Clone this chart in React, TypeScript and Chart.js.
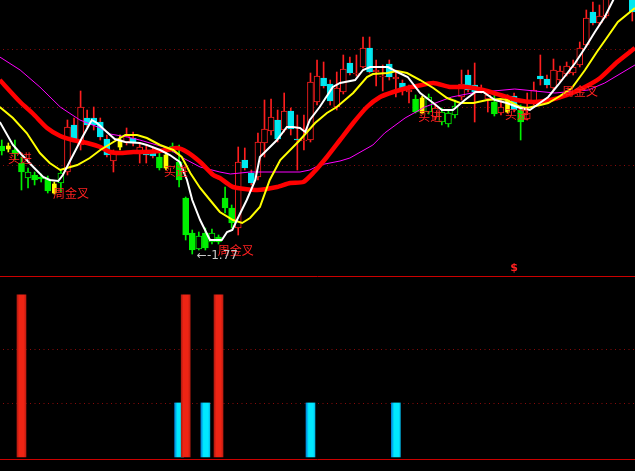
import React, { useEffect, useRef } from "react";
import { Chart, registerables } from "chart.js";

Chart.register(...registerables);

// ---------- DATA ----------
// candle kinds: r = red hollow (up), c = cyan (down), g = green filled, G = green hollow, y = yellow
const kinds = [
  "g","y","g","g","G","g","g","g","y","G",
  "r","c","r","c","c","c","c","r","y","r",
  "c","r","c","c","g","y","G","g","g","g",
  "G","g","G","g","g","g","r","c","c","r",
  "r","r","c","r","c","c","r","r","r","c",
  "c","r","r","c","r","r","c","r","r","c",
  "r","c","r","g","y","G","r","G","G","G",
  "r","c","c","r","r","g","r","y","c","g",
  "r","r","c","c","r","r","r","r","r","r",
  "c","r","r","r","r","c","c",
];
const opens = [
  13.0,13.0,12.6,11.3,9.8,10.1,9.9,9.7,9.2,9.3,
  10.4,15.1,13.1,15.8,15.8,15.4,13.7,11.5,13.6,13.4,
  13.8,12.4,12.6,12.6,11.9,12.1,12.6,11.4,7.8,4.3,
  2.7,4.3,3.4,3.9,7.8,6.8,4.8,11.6,10.3,9.9,
  13.3,14.5,15.6,14.6,16.5,13.6,13.5,13.6,17.4,19.8,
  19.2,16.9,18.4,21.3,20.2,20.9,22.8,20.4,19.9,21.2,
  19.7,19.3,18.4,17.7,17.8,16.4,15.9,15.4,15.2,16.1,
  17.9,20.1,19.1,18.5,17.7,17.4,16.3,17.8,18.0,16.6,
  15.7,17.3,20.0,19.7,18.8,19.6,20.2,20.3,21.1,23.1,
  26.4,25.3,26.0,28.1,30.1,32.0,28.1,
];
const closes = [
  12.5,12.7,12.2,10.4,10.4,9.6,9.7,8.5,8.3,10.3,
  14.9,13.6,16.9,15.1,15.1,13.9,12.1,12.3,12.9,14.0,
  13.3,12.9,12.1,12.0,10.8,10.8,13.0,9.6,4.1,2.6,
  4.0,2.8,4.3,3.4,6.8,5.3,11.4,10.8,9.3,13.4,
  14.7,15.9,13.7,16.5,14.7,13.5,13.6,19.4,20.0,19.0,
  17.5,18.8,20.7,20.3,20.3,22.8,20.4,20.6,20.0,19.9,
  19.9,18.7,18.6,16.4,16.3,17.9,16.8,16.4,16.3,17.0,
  19.2,18.6,18.4,18.7,18.1,16.2,16.9,16.4,16.6,15.4,
  16.3,18.6,19.7,19.1,20.6,20.5,21.0,20.9,22.8,25.8,
  25.3,26.0,28.1,30.6,32.6,29.6,26.4,
];
const highs = [
  13.6,13.3,13.6,11.9,10.8,10.4,10.2,10.0,9.4,10.6,
  15.6,15.8,18.5,16.6,16.9,15.8,14.1,12.6,14.1,14.8,
  14.4,13.3,13.1,12.9,12.6,12.6,13.3,13.1,7.9,4.6,
  4.4,4.8,4.7,4.1,8.9,7.1,12.9,12.8,10.6,14.3,
  17.6,17.7,16.6,18.3,16.8,16.1,16.1,20.3,21.6,21.4,
  19.6,20.4,22.1,21.9,22.1,23.9,23.9,21.6,21.1,21.6,
  20.6,19.6,19.1,18.1,18.0,18.2,17.2,16.8,16.6,17.6,
  20.6,20.6,21.3,19.1,18.4,18.1,17.6,18.1,18.3,17.1,
  18.3,19.4,22.1,20.1,21.7,21.0,21.4,21.6,23.4,26.6,
  27.4,27.1,29.1,31.6,33.5,33.0,28.6,
];
const lows = [
  12.1,12.4,11.6,8.6,8.8,9.1,9.4,8.3,8.2,8.4,
  10.1,13.5,12.6,14.9,14.6,13.6,11.9,10.4,12.6,13.1,
  13.0,11.3,11.3,11.8,10.6,10.6,12.4,8.9,3.6,2.2,
  2.6,2.6,3.2,3.2,6.3,4.8,4.1,10.6,9.1,9.6,
  11.9,14.1,13.4,14.4,14.1,10.6,12.6,13.4,17.1,18.8,
  17.1,16.6,18.2,20.1,20.0,20.8,20.3,19.0,18.5,19.6,
  17.9,18.1,17.3,16.3,16.2,16.2,15.6,15.1,14.9,15.8,
  17.6,18.4,15.4,18.3,16.4,16.0,16.1,16.3,16.4,13.6,
  15.6,17.1,19.1,18.8,18.6,19.4,20.0,20.1,20.9,22.9,
  25.1,25.1,25.8,27.9,29.8,29.0,25.5,
];

// moving-average lines: [candle position, value]
const whitePts = [[-0.3,15.4],[1.7,13.1],[2.8,12.3],[4.8,10.9],[6.3,9.9],[7.3,9.6],[8.6,9.5],[9.3,10.1],[10.7,11.9],[12.2,13.8],[13.7,15.6],[14.5,15.3],[16.0,14.4],[17.2,13.7],[18.8,13.4],[21.0,13.3],[22.1,13.1],[24.1,12.6],[25.6,12.1],[27.1,11.4],[28.2,9.6],[29.0,7.6],[30.2,5.6],[31.7,3.6],[33.5,3.6],[34.3,4.4],[35.1,4.6],[35.8,5.6],[37.3,7.6],[38.6,9.6],[39.3,11.9],[41.9,13.6],[43.4,14.9],[44.3,14.9],[45.4,14.8],[46.2,14.4],[46.9,15.6],[48.4,16.9],[50.4,18.9],[51.5,19.3],[53.8,19.6],[55.0,20.6],[56.1,20.9],[58.8,20.9],[60.2,20.4],[61.8,19.9],[63.7,18.3],[65.7,17.3],[67.0,16.6],[68.7,16.6],[70.5,17.6],[72.1,18.4],[73.3,18.4],[75.1,17.6],[76.9,17.3],[78.9,16.8],[80.4,16.6],[83.2,17.9],[84.7,19.1],[87.3,21.3],[88.8,22.8],[90.3,24.4],[91.8,25.9],[93.1,27.6],[94.9,30.6]];
const yellowPts = [[-0.3,16.9],[1.7,15.8],[3.8,14.3],[5.8,12.3],[7.3,11.3],[8.9,10.6],[9.9,10.8],[11.5,11.1],[13.4,11.8],[15.0,12.6],[17.0,13.4],[18.8,14.1],[20.6,14.1],[22.1,13.8],[24.1,13.1],[26.1,12.6],[27.4,11.9],[28.7,10.3],[30.2,8.8],[31.7,7.6],[33.2,6.4],[35.2,5.6],[36.6,5.3],[37.8,5.8],[39.3,6.9],[40.8,9.6],[42.4,11.6],[45.4,13.6],[47.7,15.3],[49.5,16.3],[51.0,16.9],[53.5,18.3],[55.6,19.9],[56.5,20.2],[58.7,20.3],[60.2,20.5],[61.7,20.3],[63.7,19.6],[65.7,18.8],[67.8,17.8],[69.8,17.3],[71.8,17.3],[73.9,17.6],[75.9,17.7],[76.9,17.6],[78.9,16.9],[80.0,16.8],[82.0,17.1],[83.2,17.3],[85.0,18.0],[86.8,18.8],[88.8,20.6],[90.6,22.4],[92.1,23.8],[93.8,25.4],[96.4,26.8]];
const redPts = [[-0.3,19.6],[2.8,17.4],[4.8,16.2],[6.9,14.8],[8.9,14.0],[10.8,13.6],[13.0,13.3],[15.0,12.9],[16.5,12.4],[18.0,12.3],[20.0,12.4],[22.1,12.4],[25.2,12.6],[26.7,12.8],[28.2,12.4],[30.2,11.4],[32.2,10.1],[33.2,9.8],[35.2,8.9],[38.9,8.6],[41.9,8.9],[43.9,9.3],[45.9,9.4],[47.4,10.3],[49.5,11.9],[51.5,13.6],[53.5,15.3],[55.6,16.9],[57.6,17.9],[59.6,18.4],[61.7,18.8],[63.2,19.0],[65.7,19.3],[68.2,18.9],[70.8,18.9],[73.3,18.6],[75.9,18.1],[78.4,17.6],[80.9,17.4],[83.5,17.6],[86.1,18.1],[88.5,18.8],[91.1,19.8],[93.7,21.4],[96.4,22.8]];
const magentaPts = [[-0.3,21.9],[2.8,20.6],[5.8,18.9],[8.9,16.9],[11.9,15.6],[15.0,14.8],[16.5,14.2],[19.1,13.9],[21.0,13.6],[25.2,12.8],[27.6,11.8],[30.2,10.9],[33.2,10.4],[34.8,10.2],[37.8,10.4],[45.4,10.4],[46.9,10.6],[48.4,11.1],[51.5,11.5],[53.0,11.8],[56.5,13.1],[58.3,14.3],[61.4,15.8],[64.4,16.9],[68.5,17.9],[71.6,18.3],[78.1,18.7],[84.2,18.3],[89.3,18.6],[91.8,19.3],[96.4,21.1]];

// signal labels in the price panel
const labelTexts = ["买进", "周金叉", "买进", "周金叉", "买进", "买进", "周金叉"];
const labelPos = [0.95, 7.8, 24.7, 32.9, 63.4, 76.6, 85.3];
const labelVals = [11.75, 8.25, 10.45, 2.6, 16.0, 16.15, 18.5];
const lowLabel = "←-1.77";
const lowLabelPos = 29.7;
const lowLabelVal = 2.0;
const markText = "$";
const markPos = 77.4;
const markVal = 0.75;

// price-panel grid values
const topGrid = [22.7, 16.9, 11.1];

// lower indicator panel
const redSignalPos = [3, 28, 33];
const redSignalVals = [3, 3, 3];
const cyanSignalPos = [27, 31, 47, 60];
const cyanSignalVals = [1, 1, 1, 1];
const bottomGrid = [1, 2];

// ---------- STYLE ----------
const X_MIN = -0.27;
const X_MAX = 96.41;
const RED = "#ff1e1e";
const CYAN = "#00e8f0";
const GREEN = "#00f000";
const YELLOW = "#ffff00";
const STYLE: Record<string, { fill: string; edge: string; wick: string }> = {
  r: { fill: "#000000", edge: RED, wick: RED },
  c: { fill: CYAN, edge: CYAN, wick: RED },
  g: { fill: GREEN, edge: GREEN, wick: GREEN },
  G: { fill: "#000000", edge: GREEN, wick: GREEN },
  y: { fill: YELLOW, edge: YELLOW, wick: YELLOW },
};

const bodyRange = (i: number) => {
  const a = opens[i];
  let b = closes[i];
  if (Math.abs(a - b) < 0.1) b = a + 0.1;
  return [a, b];
};

const dotted = (chart: any, values: number[]) => {
  const { ctx, chartArea, scales } = chart;
  ctx.save();
  ctx.strokeStyle = "#8a0a0a";
  ctx.lineWidth = 1;
  ctx.setLineDash([1, 3.5]);
  values.forEach((v) => {
    const y = Math.round(scales.y.getPixelForValue(v)) + 0.5;
    ctx.beginPath();
    ctx.moveTo(chartArea.left + 3, y);
    ctx.lineTo(chartArea.right, y);
    ctx.stroke();
  });
  ctx.restore();
};

const topDecor = {
  id: "topDecor",
  beforeDatasetsDraw(chart: any) {
    dotted(chart, topGrid);
  },
  afterDatasetsDraw(chart: any) {
    const { ctx, scales } = chart;
    ctx.save();
    ctx.textBaseline = "middle";
    ctx.textAlign = "left";
    ctx.font = '12px "Noto Sans CJK SC"';
    ctx.fillStyle = "#ff2020";
    labelTexts.forEach((t, i) => {
      ctx.fillText(t, scales.x.getPixelForValue(labelPos[i]), scales.y.getPixelForValue(labelVals[i]));
    });
    ctx.font = '12px "DejaVu Sans"';
    ctx.fillStyle = "#c8c8c8";
    ctx.fillText(lowLabel, scales.x.getPixelForValue(lowLabelPos), scales.y.getPixelForValue(lowLabelVal));
    ctx.font = 'bold 11px "DejaVu Sans"';
    ctx.fillStyle = "#ff2020";
    ctx.fillText(markText, scales.x.getPixelForValue(markPos), scales.y.getPixelForValue(markVal));
    ctx.restore();
  },
};

const bottomDecor = {
  id: "bottomDecor",
  beforeDatasetsDraw(chart: any) {
    dotted(chart, bottomGrid);
  },
  afterDatasetsDraw(chart: any) {
    const { ctx, chartArea, scales } = chart;
    ctx.save();
    ctx.strokeStyle = "#cc0000";
    ctx.lineWidth = 1;
    ctx.beginPath();
    ctx.moveTo(chartArea.left, chartArea.top + 0.5);
    ctx.lineTo(chartArea.right, chartArea.top + 0.5);
    const yb = Math.round(scales.y.getPixelForValue(-0.04)) + 0.5;
    ctx.moveTo(chartArea.left, yb);
    ctx.lineTo(chartArea.right, yb);
    ctx.stroke();
    ctx.restore();
  },
};

const gradFill = (stops: [number, string][]) => (c: any) => {
  const chart = c.chart;
  const xs = chart.scales && chart.scales.x;
  if (!xs || !c.raw || !chart.chartArea) return stops[1][1];
  const px = xs.getPixelForValue(c.raw.x);
  const g = chart.ctx.createLinearGradient(px - 4.5, 0, px + 4.5, 0);
  stops.forEach(([o, col]) => g.addColorStop(o, col));
  return g;
};

const hiddenX = { type: "linear", min: X_MIN, max: X_MAX, display: false, offset: false };

export default function App() {
  const topRef = useRef<HTMLCanvasElement>(null);
  const botRef = useRef<HTMLCanvasElement>(null);

  useEffect(() => {
    document.body.style.margin = "0";
    document.body.style.background = "#000";
    const idx = kinds.map((_, i) => i);
    const nonYellow = idx.filter((i) => kinds[i] !== "y");
    const yellow = idx.filter((i) => kinds[i] === "y");

    const top = new Chart(topRef.current as HTMLCanvasElement, {
      type: "bar",
      data: {
        datasets: [
          {
            type: "bar",
            data: idx.map((i) => ({ x: i, y: [lows[i], highs[i]] })),
            backgroundColor: idx.map((i) => STYLE[kinds[i]].wick),
            borderWidth: 0,
            barThickness: 1,
            grouped: false,
            order: 10,
          } as any,
          {
            type: "bar",
            data: nonYellow.map((i) => ({ x: i, y: bodyRange(i) })),
            backgroundColor: nonYellow.map((i) => STYLE[kinds[i]].fill),
            borderColor: nonYellow.map((i) => STYLE[kinds[i]].edge),
            borderWidth: 1,
            borderSkipped: false,
            barThickness: 6,
            grouped: false,
            order: 9,
          } as any,
          {
            type: "bar",
            data: yellow.map((i) => ({ x: i, y: bodyRange(i) })),
            backgroundColor: YELLOW,
            borderWidth: 0,
            barThickness: 4,
            grouped: false,
            order: 8,
          } as any,
          {
            type: "line",
            data: magentaPts.map(([x, y]) => ({ x, y })),
            borderColor: "#ff00ff",
            borderWidth: 1,
            pointRadius: 0,
            tension: 0,
            order: 4,
          } as any,
          {
            type: "line",
            data: redPts.map(([x, y]) => ({ x, y })),
            borderColor: "#ff0000",
            borderWidth: 4.5,
            pointRadius: 0,
            tension: 0.2,
            order: 3,
          } as any,
          {
            type: "line",
            data: yellowPts.map(([x, y]) => ({ x, y })),
            borderColor: YELLOW,
            borderWidth: 2,
            pointRadius: 0,
            tension: 0,
            order: 2,
          } as any,
          {
            type: "line",
            data: whitePts.map(([x, y]) => ({ x, y })),
            borderColor: "#ffffff",
            borderWidth: 2,
            pointRadius: 0,
            tension: 0,
            order: 1,
          } as any,
        ],
      },
      options: {
        responsive: false,
        animation: false,
        devicePixelRatio: 1,
        layout: { padding: 0, autoPadding: false },
        events: [],
        plugins: { legend: { display: false }, tooltip: { enabled: false } },
        scales: {
          x: hiddenX as any,
          y: { type: "linear", min: 0, max: 27.6, display: false },
        },
      } as any,
      plugins: [topDecor],
    });

    const bot = new Chart(botRef.current as HTMLCanvasElement, {
      type: "bar",
      data: {
        datasets: [
          {
            data: cyanSignalPos.map((x, i) => ({ x, y: cyanSignalVals[i] })),
            backgroundColor: gradFill([[0, "#0080d8"], [0.3, "#00e8ff"], [0.8, "#00e8ff"], [1, "#00b8e8"]]),
            borderWidth: 0,
            barThickness: 9,
            grouped: false,
            order: 2,
          } as any,
          {
            data: redSignalPos.map((x, i) => ({ x, y: redSignalVals[i] })),
            backgroundColor: gradFill([[0, "#b01a10"], [0.25, "#ee2414"], [0.75, "#ee2414"], [1, "#c01c10"]]),
            borderWidth: 0,
            barThickness: 9,
            grouped: false,
            order: 1,
          } as any,
        ],
      },
      options: {
        responsive: false,
        animation: false,
        devicePixelRatio: 1,
        layout: { padding: 0, autoPadding: false },
        events: [],
        plugins: { legend: { display: false }, tooltip: { enabled: false } },
        scales: {
          x: hiddenX as any,
          y: { type: "linear", min: -0.26, max: 3.35, display: false },
        },
      } as any,
      plugins: [bottomDecor],
    });

    return () => {
      top.destroy();
      bot.destroy();
    };
  }, []);

  return (
    <div style={{ position: "fixed", left: 0, top: 0, width: 635, height: 471, background: "#000", overflow: "hidden" }}>
      <canvas ref={topRef} width={635} height={276} style={{ position: "absolute", left: 0, top: 0, width: 635, height: 276 }} />
      <canvas ref={botRef} width={635} height={195} style={{ position: "absolute", left: 0, top: 276, width: 635, height: 195 }} />
    </div>
  );
}
